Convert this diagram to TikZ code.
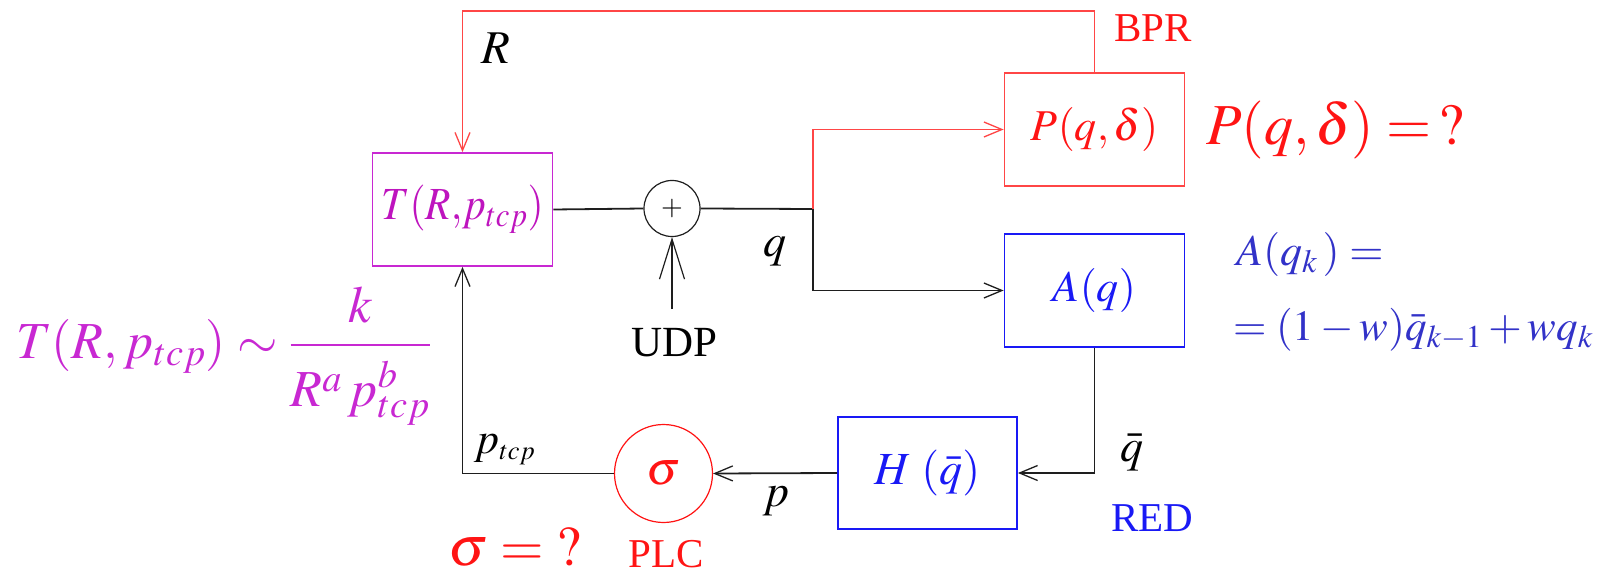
\documentclass[tikz,border=0pt]{standalone}
\usepackage{graphicx}
\usepackage{mathptmx}
\usepackage[no-math]{fontspec}
\setmainfont{Liberation Serif}
\usetikzlibrary{arrows.meta}
\definecolor{cred}{RGB}{255,20,20}
\definecolor{clred}{RGB}{255,70,70}
\definecolor{cmag}{RGB}{200,40,210}
\definecolor{cmagbox}{RGB}{190,20,190}
\definecolor{cblue}{RGB}{25,25,245}
\definecolor{cform}{RGB}{50,50,200}
\definecolor{cline}{RGB}{30,30,30}
\newcommand\myfs[1]{\fontsize{#1}{#1}\selectfont}
\begin{document}
\begin{tikzpicture}[x=1pt,y=-1pt,
  blk/.style={draw, line width=1.8pt, minimum width=180pt, minimum height=113pt, inner sep=0pt},
  wire/.style={line width=1.8pt, draw=cline},
  rwire/.style={line width=1.7pt, draw=clred},
  arr/.style={-{Straight Barb[length=18pt,width=15pt,line width=1.3pt]}},
  lbl/.style={inner sep=0pt}]
\useasboundingbox (0,0) rectangle (1606,572);
% blocks
\node[blk, draw=cmag, text=cmagbox] (T) at (462.5,209.5) {\myfs{46}\scalebox{0.9}[1]{$T(R{,}p_{tcp})$}};
\node[blk, draw=clred, text=cred] (P) at (1094.5,129.5) {\myfs{44}$P(q,\delta)$};
\node[blk, draw=cblue, text=cblue] (A) at (1094.5,290.5) {\myfs{44}$A(q)$};
\node[blk, draw=cblue, text=cblue, minimum width=179pt, minimum height=112pt] (H) at (927.5,473) {\myfs{46}$H\;(\bar q)$};
\node[circle, draw=cline, line width=1.2pt, minimum size=56pt, inner sep=0pt] (plus) at (672,208.5) {\myfs{28}$+$};
\node[circle, draw=cred, line width=1.2pt, minimum size=98pt, inner sep=0pt, text=cred] (sig) at (663.5,473.5) {\myfs{48}$\sigma$};
% coordinates
\coordinate (J) at (813,209);
\coordinate (topR) at (1094.5,11);
\coordinate (udpTop) at (672,309);
% connectors
\draw[wire] (T.east) -- (plus.west);
\draw[wire] (plus.east) -- (J);
\draw[wire,arr] (J) |- (A.west);
\draw[rwire,arr] (J) |- (P.west);
\draw[rwire,arr] (P.north) -- (topR) -| (T.north);
\draw[wire,line width=1.4pt,-{Straight Barb[length=40pt,width=25pt,line width=1.2pt]}] (udpTop) -- (plus.south);
\draw[wire,arr] (A.south) |- (H.east);
\draw[wire,arr] (H.west) -- (sig.east);
\draw[wire,arr] (sig.west) -| (T.south);
% labels
\node[lbl] (lR) at (495.5,48.5) {\myfs{47}$R$};
\node[lbl, text=cred] (lBPR) at (1153,28.5) {\myfs{41}BPR};
\node[lbl] (lq) at (774.5,251.5) {\myfs{46}$q$};
\node[lbl] (lUDP) at (674.5,342.5) {\myfs{43}UDP};
\node[lbl, anchor=base west] (lptcp) at (474,453) {\myfs{44}$p_{\scriptscriptstyle tcp}$};
\node[lbl] (lp) at (776.5,501.5) {\myfs{46}$p$};
\node[lbl] (lqbar) at (1131.5,452) {\myfs{46}$\bar q$};
\node[lbl, text=cblue] (lRED) at (1152,518.5) {\myfs{41}RED};
\node[lbl, text=cred] (lPLC) at (666.5,554.5) {\myfs{41}PLC};
% formulas
\node[lbl, text=cred, anchor=base west] (fP) at (1206,145) {\myfs{58}$P(q,\delta)=\,?$};
\node[lbl, text=cred, anchor=base west] (fS) at (448,565) {\myfs{56}$\sigma=\;?$};
\node[lbl, text=cmag, anchor=base west] (fT) at (16,358) {\myfs{52}$\displaystyle T(R,p_{tcp})\sim\frac{k}{\rule{0pt}{54pt}R^a\,p_{tcp}^b}$};
\node[lbl, text=cform, anchor=base west] (fA1) at (1236,265) {\myfs{44}$A(q_k\,)=$};
\node[lbl, text=cform, anchor=base west] (fA2) at (1233,340) {\myfs{43}$=(1-w)\bar q_{k-1}+wq_k$};
\end{tikzpicture}
\end{document}
